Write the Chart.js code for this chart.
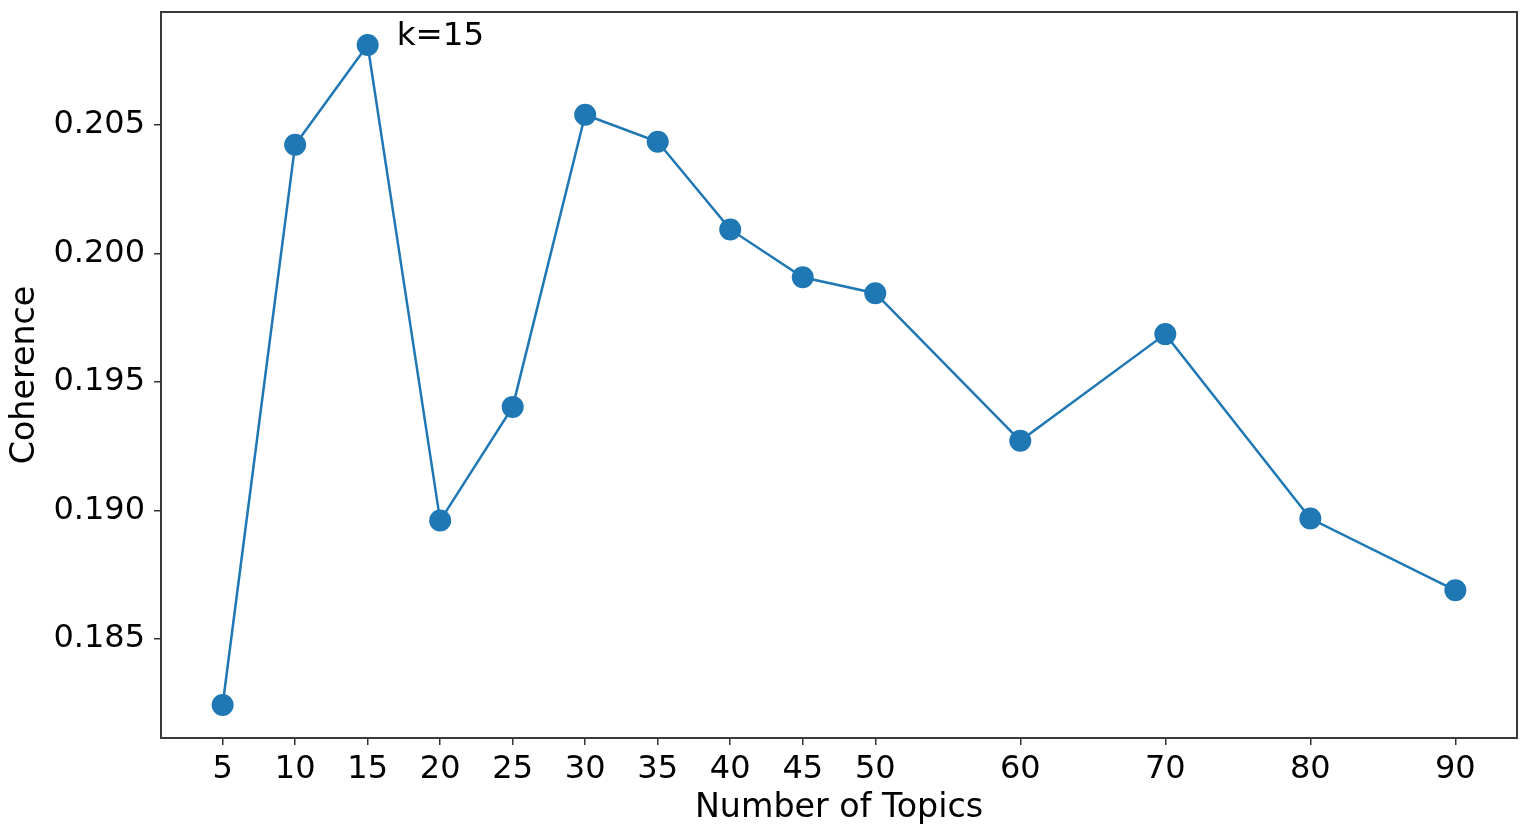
<!DOCTYPE html>
<html lang="en">
  <head>
    <meta charset="UTF-8" />
    <title>Coherence vs Number of Topics</title>
    <script src="https://cdn.jsdelivr.net/npm/chart.js"></script>
    <style>
      html, body { margin: 0; padding: 0; background: #fff; }
      #wrap { width: 1540px; height: 838px; position: relative; }
    </style>
  </head>
  <body>
    <div id="wrap"><canvas id="coherenceChart" width="1540" height="838"></canvas></div>

    <script>
      // values
      const topics = [5, 10, 15, 20, 25, 30, 35, 40, 45, 50, 60, 70, 80, 90];
      const coherence = [0.18244, 0.20422, 0.20810, 0.18961, 0.19403, 0.20539, 0.20434,
                         0.20093, 0.19907, 0.19845, 0.19271, 0.19686, 0.18969, 0.18690];
      const yTicks = [0.185, 0.190, 0.195, 0.200, 0.205];
      const annotationText = 'k=15';

      const FONT = "'DejaVu Sans', sans-serif";
      const BLUE = '#1f77b4';

      // matplotlib-style 5% margins
      const xSpan = topics[topics.length - 1] - topics[0];
      const yMinV = Math.min(...coherence), yMaxV = Math.max(...coherence);
      const ySpan = yMaxV - yMinV;

      // frame + annotation drawn on top of the chart area
      const framePlugin = {
        id: 'frame',
        afterDatasetsDraw(chart) {
          const { ctx, chartArea: a, scales } = chart;
          ctx.save();
          ctx.strokeStyle = '#3a3a3a';
          ctx.lineWidth = 2;
          ctx.strokeRect(a.left, a.top, a.right - a.left, a.bottom - a.top);

          // label next to the best k
          const best = coherence.indexOf(yMaxV);
          const tx = scales.x.getPixelForValue(topics[best] + 2);
          const ty = scales.y.getPixelForValue(yMaxV);
          ctx.fillStyle = '#000';
          ctx.font = '32.5px ' + FONT;
          ctx.textAlign = 'left';
          ctx.textBaseline = 'alphabetic';
          ctx.fillText(annotationText, tx, ty);
          ctx.restore();
        }
      };

      new Chart(document.getElementById('coherenceChart'), {
        type: 'line',
        data: {
          datasets: [{
            data: topics.map((t, i) => ({ x: t, y: coherence[i] })),
            borderColor: BLUE,
            backgroundColor: BLUE,
            borderWidth: 2.5,
            pointRadius: 11,
            pointHoverRadius: 11,
            pointBorderWidth: 0,
            pointBackgroundColor: BLUE,
            tension: 0,
            fill: false
          }]
        },
        options: {
          responsive: false,
          animation: false,
          layout: { padding: { top: 12, right: 23, left: 0, bottom: 0 } },
          plugins: {
            legend: { display: false },
            tooltip: { enabled: false }
          },
          scales: {
            x: {
              type: 'linear',
              min: topics[0] - 0.05 * xSpan,
              max: topics[topics.length - 1] + 0.05 * xSpan,
              afterBuildTicks: s => { s.ticks = topics.map(v => ({ value: v })); },
              afterFit: s => { s.height = 100; s.paddingLeft = 0; s.paddingRight = 0; },
              grid: { drawOnChartArea: false, drawTicks: true, tickLength: 7, color: '#333', lineWidth: 1.5 },
              border: { display: false },
              ticks: {
                color: '#000',
                font: { family: FONT, size: 32 },
                padding: 5,
                maxRotation: 0,
                autoSkip: false,
                callback: v => String(v)
              },
              title: {
                display: true,
                text: 'Number of Topics',
                color: '#000',
                font: { family: FONT, size: 33.3 },
                padding: { top: 0, bottom: 10 }
              }
            },
            y: {
              min: yMinV - 0.05 * ySpan,
              max: yMaxV + 0.05 * ySpan,
              afterBuildTicks: s => { s.ticks = yTicks.map(v => ({ value: v })); },
              afterFit: s => { s.width = 161; s.paddingTop = 0; s.paddingBottom = 0; },
              grid: { drawOnChartArea: false, drawTicks: true, tickLength: 7, color: '#333', lineWidth: 1.5 },
              border: { display: false },
              ticks: {
                color: '#000',
                font: { family: FONT, size: 32 },
                padding: 9,
                callback: v => v.toFixed(3)
              },
              title: {
                display: true,
                text: 'Coherence',
                color: '#000',
                font: { family: FONT, size: 33.3 },
                padding: { top: 5, bottom: 0 }
              }
            }
          }
        },
        plugins: [framePlugin]
      });
    </script>
  </body>
</html>
